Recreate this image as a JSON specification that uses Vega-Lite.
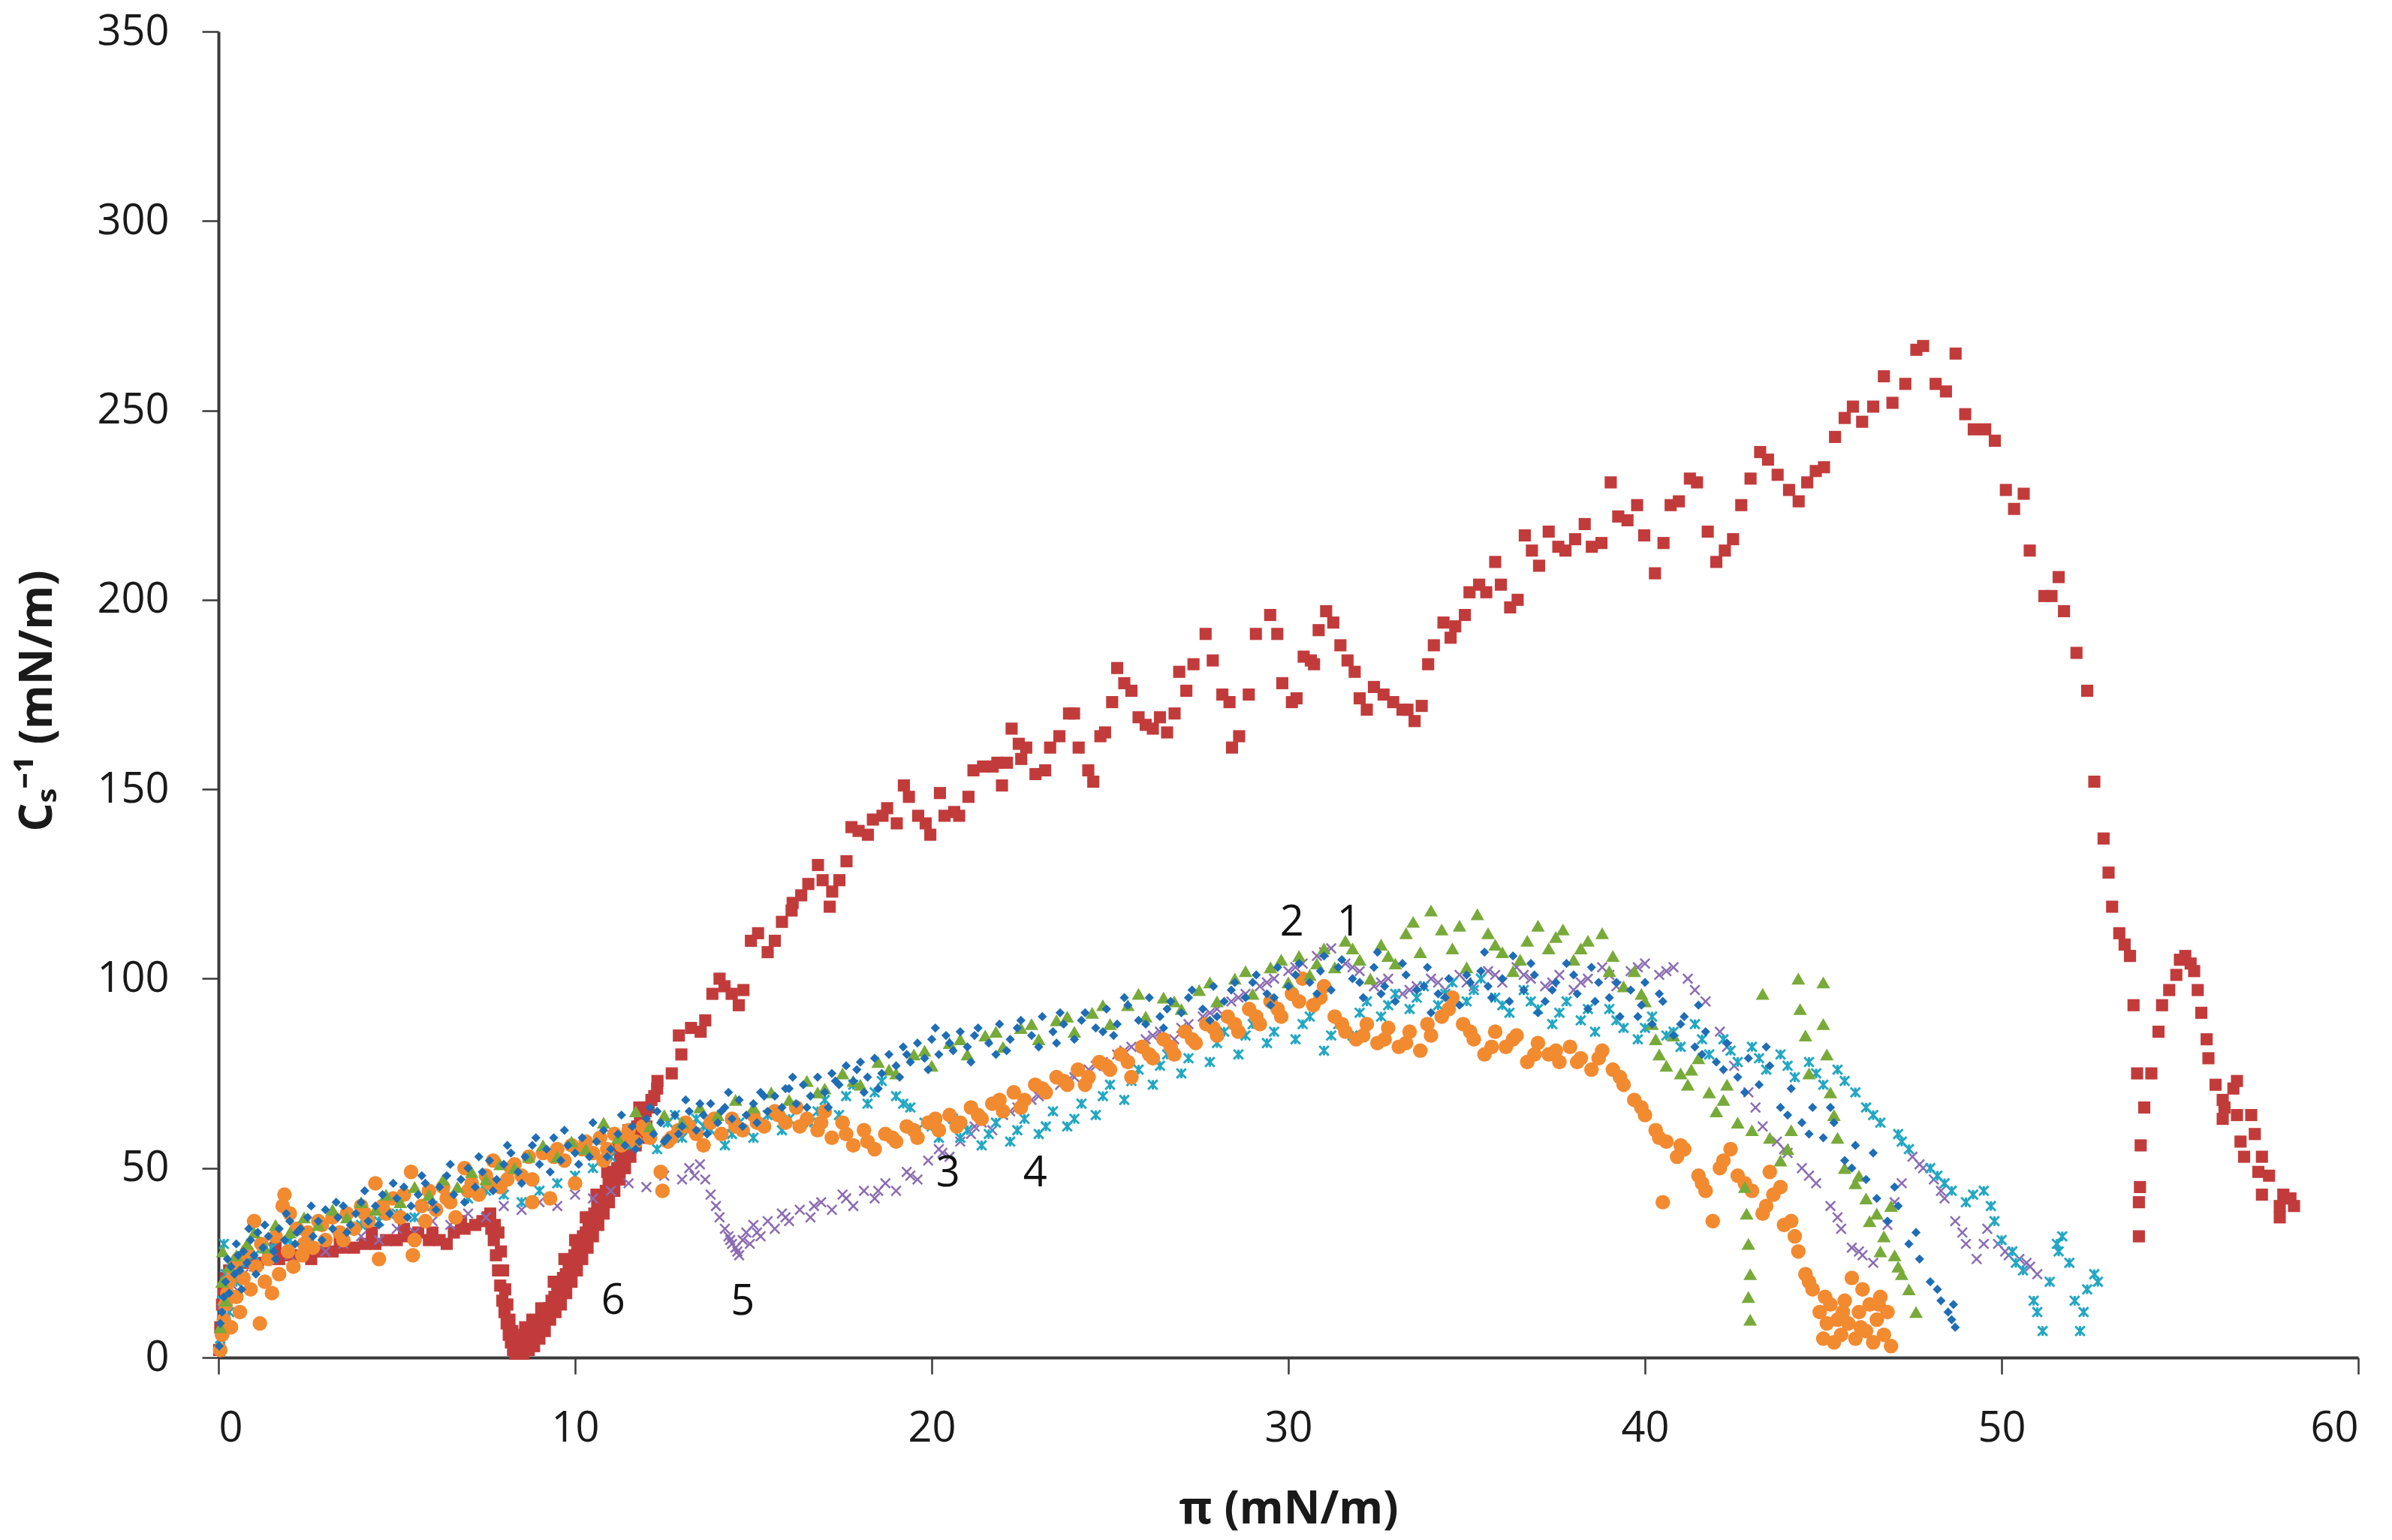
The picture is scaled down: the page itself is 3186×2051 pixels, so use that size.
{
  "$schema": "https://vega.github.io/schema/vega-lite/v6.json",
  "description": "Compressibility modulus against surface pressure for six films.",
  "width": 2850,
  "height": 1766,
  "autosize": {"type": "none"},
  "padding": {"left": 291, "top": 42, "right": 45, "bottom": 243},
  "background": "white",
  "datasets": {
    "s6": [
      {"x":0.02,"y":2},{"x":0.05,"y":8},{"x":0.1,"y":14},{"x":0.15,"y":18},{"x":0.2,"y":21},{"x":0.3,"y":23},{"x":0.5,"y":24},{"x":0.8,"y":25},{"x":1.1,"y":25},{"x":1.4,"y":26},{"x":1.7,"y":26},{"x":2.0,"y":27},{"x":2.3,"y":27},{"x":2.6,"y":26},{"x":2.9,"y":28},{"x":3.2,"y":28},{"x":3.5,"y":29},{"x":3.8,"y":29},{"x":4.1,"y":30},{"x":4.4,"y":30},{"x":4.7,"y":31},{"x":5.0,"y":31},{"x":5.3,"y":32},{"x":5.6,"y":33},{"x":5.9,"y":31},{"x":6.2,"y":31},{"x":6.4,"y":30},{"x":6.6,"y":33},{"x":6.9,"y":34},{"x":7.2,"y":35},{"x":7.4,"y":36},{"x":7.55,"y":37},{"x":7.65,"y":34},{"x":7.72,"y":31},{"x":7.78,"y":27},{"x":7.84,"y":23},{"x":7.9,"y":19},{"x":7.96,"y":15},{"x":8.02,"y":12},{"x":8.08,"y":9},{"x":8.14,"y":6},{"x":8.2,"y":4},{"x":8.26,"y":2},{"x":8.32,"y":1},{"x":8.38,"y":1},{"x":8.44,"y":2},{"x":8.5,"y":3},{"x":8.56,"y":2},{"x":8.62,"y":4},{"x":8.7,"y":5},{"x":8.78,"y":6},{"x":8.86,"y":7},{"x":8.94,"y":8},{"x":9.02,"y":9},{"x":9.1,"y":10},{"x":9.18,"y":11},{"x":9.26,"y":13},{"x":9.34,"y":15},{"x":9.42,"y":16},{"x":9.5,"y":18},{"x":9.58,"y":19},{"x":9.66,"y":21},{"x":9.74,"y":22},{"x":9.82,"y":24},{"x":9.9,"y":25},{"x":9.98,"y":27},{"x":10.06,"y":29},{"x":10.14,"y":30},{"x":10.22,"y":32},{"x":10.3,"y":33},{"x":10.38,"y":35},{"x":10.46,"y":37},{"x":10.54,"y":38},{"x":10.62,"y":40},{"x":10.7,"y":41},{"x":10.78,"y":43},{"x":10.86,"y":44},{"x":10.94,"y":46},{"x":11.02,"y":47},{"x":11.1,"y":49},{"x":11.18,"y":50},{"x":11.26,"y":52},{"x":11.34,"y":53},{"x":11.42,"y":55},{"x":11.5,"y":56},{"x":11.58,"y":58},{"x":11.66,"y":59},{"x":11.74,"y":61},{"x":11.82,"y":62},{"x":11.9,"y":64},{"x":11.98,"y":65},{"x":12.06,"y":66},{"x":12.14,"y":68},{"x":12.22,"y":69},{"x":12.3,"y":71},
      {"x":7.85,"y":33},{"x":7.92,"y":28},{"x":7.98,"y":23},{"x":8.04,"y":18},{"x":8.1,"y":14},{"x":8.16,"y":10},{"x":8.24,"y":7},{"x":8.3,"y":5},{"x":8.4,"y":4},{"x":8.5,"y":6},{"x":8.55,"y":1},{"x":8.7,"y":2},{"x":8.85,"y":3},{"x":9.0,"y":5},{"x":9.15,"y":7},{"x":9.3,"y":10},{"x":9.45,"y":12},{"x":9.6,"y":14},{"x":9.75,"y":17},{"x":9.9,"y":20},{"x":10.05,"y":23},{"x":10.2,"y":26},{"x":10.35,"y":29},{"x":10.5,"y":32},{"x":10.65,"y":35},{"x":10.8,"y":38},{"x":10.95,"y":41},{"x":11.1,"y":44},{"x":11.25,"y":47},{"x":11.4,"y":50},{"x":11.55,"y":53},{"x":11.7,"y":56},{"x":11.85,"y":58},{"x":12.0,"y":61},
      {"x":7.62,"y":38},{"x":7.75,"y":35},{"x":8.6,"y":8},{"x":8.8,"y":10},{"x":9.05,"y":13},{"x":9.4,"y":20},{"x":9.7,"y":26},{"x":10.0,"y":31},{"x":10.3,"y":37},{"x":10.6,"y":43},{"x":10.9,"y":49},{"x":11.2,"y":55},{"x":11.5,"y":60},{"x":11.8,"y":66},{"x":1.6,"y":29},{"x":2.5,"y":30},{"x":3.4,"y":31},{"x":4.3,"y":33},{"x":5.2,"y":34},{"x":6.0,"y":33},{"x":6.8,"y":36},
      {"x":12.04,"y":66},{"x":12.31,"y":73},{"x":12.71,"y":75},{"x":12.98,"y":80},{"x":12.91,"y":85},{"x":13.25,"y":87},{"x":13.52,"y":86},{"x":13.65,"y":89},{"x":13.85,"y":96},{"x":14.05,"y":100},{"x":14.19,"y":98},{"x":14.39,"y":96},{"x":14.59,"y":93},{"x":14.72,"y":97},{"x":14.93,"y":110},{"x":15.13,"y":112},{"x":15.4,"y":107},{"x":15.6,"y":110},{"x":15.8,"y":115},{"x":16.07,"y":118},{"x":16.1,"y":120},{"x":16.34,"y":122},{"x":16.54,"y":125},{"x":16.81,"y":130},{"x":16.94,"y":126},{"x":17.14,"y":119},{"x":17.21,"y":123},{"x":17.41,"y":126},{"x":17.61,"y":131},{"x":17.75,"y":140},{"x":17.95,"y":139},{"x":18.21,"y":138},{"x":18.35,"y":142},{"x":18.62,"y":143},{"x":18.75,"y":145},{"x":19.02,"y":141},{"x":19.22,"y":151},{"x":19.36,"y":148},{"x":19.62,"y":143},{"x":19.83,"y":141},{"x":19.96,"y":138},{"x":20.23,"y":149},{"x":20.36,"y":143},{"x":20.63,"y":144},{"x":20.77,"y":143},{"x":21.03,"y":148},{"x":21.17,"y":155},{"x":21.44,"y":156},{"x":21.71,"y":156},{"x":21.84,"y":157},{"x":21.97,"y":151},{"x":22.11,"y":157},{"x":22.24,"y":166},{"x":22.44,"y":162},{"x":22.51,"y":158},{"x":22.65,"y":161},{"x":22.91,"y":154},{"x":23.18,"y":155},{"x":23.32,"y":161},{"x":23.58,"y":164},{"x":23.85,"y":170},{"x":23.99,"y":170},{"x":24.12,"y":161},{"x":24.39,"y":155},{"x":24.53,"y":152},{"x":24.73,"y":164},{"x":24.86,"y":165},{"x":25.06,"y":173},{"x":25.2,"y":182},{"x":25.4,"y":178},{"x":25.6,"y":176},{"x":25.8,"y":169},{"x":26.0,"y":167},{"x":26.2,"y":166},{"x":26.4,"y":169},{"x":26.6,"y":165},{"x":26.81,"y":170},{"x":26.94,"y":181},{"x":27.14,"y":176},{"x":27.34,"y":183},{"x":27.68,"y":191},{"x":27.88,"y":184},{"x":28.15,"y":175},{"x":28.35,"y":173},{"x":28.42,"y":161},{"x":28.62,"y":164},{"x":28.89,"y":175},{"x":29.09,"y":191},{"x":29.49,"y":196},{"x":29.69,"y":191},{"x":29.83,"y":178},{"x":30.1,"y":173},{"x":30.23,"y":174},{"x":30.43,"y":185},{"x":30.63,"y":184},{"x":30.85,"y":192},{"x":31.06,"y":197},{"x":31.26,"y":194},{"x":30.72,"y":183},{"x":31.46,"y":188},{"x":31.66,"y":184},{"x":31.86,"y":181},{"x":32.0,"y":174},{"x":32.2,"y":171},{"x":32.4,"y":177},{"x":32.67,"y":175},{"x":32.94,"y":173},{"x":33.2,"y":171},{"x":33.34,"y":171},{"x":33.54,"y":168},{"x":33.74,"y":172},{"x":33.92,"y":183},{"x":34.08,"y":188},{"x":34.35,"y":194},{"x":34.55,"y":190},{"x":34.68,"y":193},{"x":34.95,"y":196},{"x":35.08,"y":202},{"x":35.35,"y":204},{"x":35.55,"y":202},{"x":35.8,"y":210},{"x":35.96,"y":204},{"x":36.22,"y":198},{"x":36.43,"y":200},{"x":36.63,"y":217},{"x":36.83,"y":213},{"x":37.03,"y":209},{"x":37.3,"y":218},{"x":37.57,"y":214},{"x":37.77,"y":213},{"x":38.04,"y":216},{"x":38.31,"y":220},{"x":38.51,"y":214},{"x":38.78,"y":215},{"x":39.04,"y":231},{"x":39.25,"y":222},{"x":39.51,"y":221},{"x":39.78,"y":225},{"x":39.98,"y":217},{"x":40.28,"y":207},{"x":40.52,"y":215},{"x":40.72,"y":225},{"x":40.95,"y":226},{"x":41.26,"y":232},{"x":41.46,"y":231},{"x":41.76,"y":218},{"x":42.0,"y":210},{"x":42.24,"y":213},{"x":42.47,"y":216},{"x":42.7,"y":225},{"x":42.96,"y":232},{"x":43.23,"y":239},{"x":43.45,"y":237},{"x":43.72,"y":233},{"x":44.04,"y":229},{"x":44.31,"y":226},{"x":44.55,"y":231},{"x":44.79,"y":234},{"x":45.02,"y":235},{"x":45.33,"y":243},{"x":45.6,"y":248},{"x":45.83,"y":251},{"x":46.09,"y":247},{"x":46.4,"y":251},{"x":46.7,"y":259},{"x":46.94,"y":252},{"x":47.3,"y":257},{"x":47.61,"y":266},{"x":47.8,"y":267},{"x":48.15,"y":257},{"x":48.44,"y":255},{"x":48.71,"y":265},{"x":48.98,"y":249},{"x":49.22,"y":245},{"x":49.54,"y":245},{"x":49.81,"y":242},{"x":50.12,"y":229},{"x":50.62,"y":228},{"x":50.35,"y":224},{"x":50.79,"y":213},{"x":51.2,"y":201},{"x":51.4,"y":201},{"x":51.6,"y":206},{"x":51.75,"y":197},{"x":52.1,"y":186},{"x":52.4,"y":176},{"x":52.6,"y":152},{"x":52.86,"y":137},{"x":53.0,"y":128},{"x":53.1,"y":119},{"x":53.3,"y":112},{"x":53.45,"y":109},{"x":53.6,"y":106},{"x":53.7,"y":93},{"x":53.8,"y":75},{"x":54.2,"y":75},{"x":54.0,"y":66},{"x":53.9,"y":56},{"x":53.88,"y":45},{"x":53.85,"y":41},{"x":53.85,"y":32},{"x":54.4,"y":86},{"x":54.5,"y":93},{"x":54.7,"y":97},{"x":54.9,"y":101},{"x":55.0,"y":105},{"x":55.15,"y":106},{"x":55.3,"y":104},{"x":55.4,"y":102},{"x":55.5,"y":97},{"x":55.6,"y":91},{"x":55.75,"y":84},{"x":55.8,"y":79},{"x":56.0,"y":72},{"x":56.2,"y":68},{"x":56.5,"y":71},{"x":56.6,"y":73},{"x":56.2,"y":63},{"x":56.25,"y":66},{"x":56.6,"y":64},{"x":56.7,"y":57},{"x":57.0,"y":64},{"x":57.1,"y":59},{"x":56.8,"y":53},{"x":57.3,"y":53},{"x":57.2,"y":49},{"x":57.5,"y":48},{"x":57.3,"y":43},{"x":57.9,"y":43},{"x":58.1,"y":42},{"x":57.8,"y":40},{"x":58.2,"y":40},{"x":57.8,"y":37}
    ],
    "s5": [
      {"x":0.05,"y":5},{"x":0.1,"y":12},{"x":0.2,"y":16},{"x":0.4,"y":19},{"x":0.7,"y":22},{"x":1.0,"y":24},{"x":1.5,"y":26},{"x":2.0,"y":27},{"x":2.5,"y":29},{"x":3.0,"y":28},{"x":3.5,"y":30},{"x":4.0,"y":32},{"x":4.5,"y":31},{"x":5.0,"y":34},{"x":5.5,"y":33},{"x":6.0,"y":36},{"x":6.5,"y":35},{"x":7.0,"y":38},{"x":7.5,"y":37},{"x":8.0,"y":40},{"x":8.5,"y":39},{"x":9.0,"y":41},{"x":9.5,"y":40},{"x":10.0,"y":43},{"x":10.5,"y":42},{"x":11.0,"y":44},{"x":11.5,"y":46},{"x":12.0,"y":45},{"x":12.5,"y":48},{"x":13.0,"y":47},{"x":13.2,"y":50},{"x":13.35,"y":48},{"x":13.5,"y":51},{"x":13.65,"y":47},{"x":13.8,"y":43},{"x":13.95,"y":40},{"x":14.05,"y":37},{"x":14.2,"y":34},{"x":14.3,"y":32},{"x":14.4,"y":30},{"x":14.5,"y":29},{"x":14.6,"y":27},{"x":14.7,"y":31},{"x":14.8,"y":33},{"x":14.9,"y":30},{"x":15.0,"y":35},{"x":15.2,"y":32},{"x":15.4,"y":36},{"x":15.6,"y":34},{"x":15.8,"y":38},{"x":16.0,"y":36},{"x":16.3,"y":39},{"x":16.6,"y":37},{"x":16.9,"y":41},{"x":17.2,"y":39},{"x":17.5,"y":43},{"x":17.8,"y":40},{"x":18.1,"y":44},{"x":18.4,"y":42},{"x":18.7,"y":46},{"x":19.0,"y":44},{"x":19.3,"y":49},{"x":19.6,"y":47},{"x":19.9,"y":52},{"x":20.2,"y":55},{"x":20.5,"y":53},{"x":20.8,"y":57},{"x":21.1,"y":59},{"x":21.4,"y":62},{"x":21.7,"y":60},{"x":22.0,"y":64},{"x":22.4,"y":66},{"x":22.8,"y":68},{"x":23.2,"y":70},{"x":23.6,"y":72},{"x":24.0,"y":74},{"x":24.4,"y":76},{"x":24.8,"y":78},{"x":25.2,"y":80},{"x":25.6,"y":82},{"x":26.0,"y":84},{"x":26.4,"y":86},{"x":26.8,"y":84},{"x":27.2,"y":88},{"x":27.6,"y":90},{"x":28.0,"y":92},{"x":28.4,"y":94},{"x":28.8,"y":96},{"x":29.2,"y":98},{"x":29.6,"y":100},{"x":30.0,"y":102},{"x":30.4,"y":104},{"x":30.8,"y":106},{"x":31.2,"y":108},{"x":31.6,"y":104},{"x":32.0,"y":102},{"x":32.4,"y":98},{"x":32.8,"y":100},{"x":33.2,"y":96},{"x":33.6,"y":98},{"x":34.0,"y":100},{"x":34.4,"y":97},{"x":34.8,"y":101},{"x":35.2,"y":98},{"x":35.6,"y":102},{"x":36.0,"y":99},{"x":36.4,"y":103},{"x":36.8,"y":100},{"x":37.2,"y":98},{"x":37.6,"y":101},{"x":38.0,"y":97},{"x":38.4,"y":100},{"x":38.8,"y":103},{"x":39.2,"y":98},{"x":39.6,"y":102},{"x":40.0,"y":104},{"x":40.4,"y":101},{"x":40.8,"y":103},{"x":41.2,"y":100},{"x":41.7,"y":94},{"x":42.1,"y":86},{"x":42.5,"y":77},{"x":42.9,"y":70},{"x":43.3,"y":61},{"x":43.7,"y":57},{"x":44.0,"y":54},{"x":44.4,"y":50},{"x":44.8,"y":46},{"x":45.2,"y":40},{"x":45.5,"y":34},{"x":45.8,"y":29},{"x":46.1,"y":27},{"x":46.4,"y":25},{"x":46.8,"y":35},{"x":47.2,"y":46},{"x":47.5,"y":53},{"x":47.8,"y":50},{"x":48.1,"y":47},{"x":48.4,"y":42},{"x":48.7,"y":36},{"x":49.0,"y":30},{"x":49.3,"y":26},{"x":49.6,"y":34},{"x":49.9,"y":30},{"x":50.2,"y":27},{"x":50.5,"y":26},{"x":50.8,"y":24},{"x":51.0,"y":22},
      {"x":14.35,"y":31},{"x":14.55,"y":28},{"x":15.1,"y":33},{"x":15.9,"y":37},{"x":16.7,"y":40},{"x":17.6,"y":42},{"x":18.5,"y":44},{"x":19.4,"y":48},{"x":20.3,"y":54},{"x":21.2,"y":61},{"x":22.2,"y":65},{"x":23.0,"y":69},{"x":23.8,"y":73},{"x":24.6,"y":77},{"x":25.4,"y":81},{"x":26.2,"y":85},{"x":27.0,"y":87},{"x":27.8,"y":91},{"x":28.6,"y":95},{"x":29.4,"y":99},{"x":30.2,"y":103},{"x":31.0,"y":107},{"x":31.8,"y":103},{"x":32.6,"y":99},{"x":33.4,"y":97},{"x":34.2,"y":99},{"x":35.0,"y":99},{"x":35.8,"y":101},{"x":36.6,"y":101},{"x":37.4,"y":99},{"x":38.2,"y":99},{"x":39.0,"y":101},{"x":39.8,"y":103},{"x":40.6,"y":102},{"x":41.4,"y":97},{"x":42.3,"y":82},{"x":43.1,"y":66},{"x":43.9,"y":55},{"x":44.6,"y":48},{"x":45.4,"y":37},{"x":46.0,"y":28},{"x":47.0,"y":41},{"x":47.7,"y":51},{"x":48.3,"y":44},{"x":48.9,"y":33},{"x":49.5,"y":30},{"x":50.1,"y":28},{"x":50.7,"y":25}
    ],
    "s4": [
      {"x":0.05,"y":5},{"x":0.1,"y":15},{"x":0.15,"y":30},{"x":0.2,"y":22},{"x":0.3,"y":12},{"x":0.5,"y":20},{"x":0.7,"y":25},{"x":1.0,"y":27},{"x":1.5,"y":29},{"x":2.0,"y":31},{"x":2.5,"y":32},{"x":3.0,"y":31},{"x":3.5,"y":33},{"x":4.0,"y":35},{"x":4.5,"y":36},{"x":5.0,"y":38},{"x":5.5,"y":37},{"x":6.0,"y":40},{"x":6.5,"y":41},{"x":7.0,"y":42},{"x":7.5,"y":44},{"x":8.0,"y":43},{"x":8.5,"y":41},{"x":9.0,"y":44},{"x":9.5,"y":46},{"x":10.0,"y":48},{"x":10.5,"y":50},{"x":11.0,"y":53},{"x":11.5,"y":56},{"x":12.0,"y":60},{"x":12.3,"y":55},{"x":12.6,"y":62},{"x":13.0,"y":58},{"x":13.4,"y":63},{"x":13.8,"y":60},{"x":14.2,"y":56},{"x":14.6,"y":62},{"x":15.0,"y":58},{"x":15.4,"y":64},{"x":15.8,"y":60},{"x":16.2,"y":66},{"x":16.6,"y":62},{"x":17.0,"y":68},{"x":17.4,"y":64},{"x":17.8,"y":72},{"x":18.2,"y":67},{"x":18.6,"y":73},{"x":19.0,"y":69},{"x":19.4,"y":66},{"x":19.8,"y":62},{"x":20.2,"y":58},{"x":20.6,"y":63},{"x":21.0,"y":60},{"x":21.4,"y":56},{"x":21.8,"y":62},{"x":22.2,"y":57},{"x":22.6,"y":63},{"x":23.0,"y":59},{"x":23.4,"y":65},{"x":23.8,"y":61},{"x":24.2,"y":67},{"x":24.6,"y":64},{"x":25.0,"y":72},{"x":25.4,"y":68},{"x":25.8,"y":76},{"x":26.2,"y":72},{"x":26.6,"y":80},{"x":27.0,"y":75},{"x":27.4,"y":83},{"x":27.8,"y":78},{"x":28.2,"y":86},{"x":28.6,"y":80},{"x":29.0,"y":88},{"x":29.4,"y":83},{"x":29.8,"y":90},{"x":30.2,"y":84},{"x":30.6,"y":90},{"x":31.0,"y":81},{"x":31.4,"y":88},{"x":31.8,"y":85},{"x":32.2,"y":94},{"x":32.6,"y":90},{"x":33.0,"y":96},{"x":33.4,"y":92},{"x":33.8,"y":98},{"x":34.2,"y":93},{"x":34.6,"y":99},{"x":35.0,"y":94},{"x":35.4,"y":100},{"x":35.8,"y":95},{"x":36.2,"y":91},{"x":36.6,"y":97},{"x":37.0,"y":92},{"x":37.4,"y":88},{"x":37.8,"y":94},{"x":38.2,"y":89},{"x":38.6,"y":86},{"x":39.0,"y":92},{"x":39.4,"y":87},{"x":39.8,"y":84},{"x":40.2,"y":90},{"x":40.6,"y":85},{"x":41.0,"y":82},{"x":41.4,"y":88},{"x":41.8,"y":80},{"x":42.2,"y":84},{"x":42.6,"y":78},{"x":43.0,"y":82},{"x":43.4,"y":76},{"x":43.8,"y":80},{"x":44.2,"y":74},{"x":44.6,"y":78},{"x":45.0,"y":72},{"x":45.4,"y":76},{"x":45.9,"y":70},{"x":46.2,"y":66},{"x":46.6,"y":62},{"x":47.1,"y":59},{"x":47.4,"y":55},{"x":48.0,"y":50},{"x":48.2,"y":48},{"x":48.6,"y":44},{"x":49.2,"y":43},{"x":49.5,"y":44},{"x":49.7,"y":40},{"x":50.0,"y":31},{"x":50.3,"y":28},{"x":50.6,"y":23},{"x":50.9,"y":15},{"x":51.15,"y":7},{"x":51.35,"y":20},{"x":51.55,"y":30},{"x":51.7,"y":32},{"x":51.9,"y":25},{"x":52.05,"y":15},{"x":52.2,"y":7},{"x":52.4,"y":18},{"x":52.6,"y":22},{"x":52.7,"y":20},
      {"x":12.8,"y":64},{"x":13.6,"y":61},{"x":14.4,"y":59},{"x":15.2,"y":62},{"x":16.0,"y":63},{"x":16.8,"y":65},{"x":17.6,"y":69},{"x":18.4,"y":70},{"x":19.2,"y":67},{"x":20.0,"y":61},{"x":20.8,"y":58},{"x":21.6,"y":59},{"x":22.4,"y":60},{"x":23.2,"y":61},{"x":24.0,"y":63},{"x":24.8,"y":69},{"x":25.6,"y":73},{"x":26.4,"y":77},{"x":27.2,"y":79},{"x":28.0,"y":83},{"x":28.8,"y":85},{"x":29.6,"y":86},{"x":30.4,"y":88},{"x":31.2,"y":85},{"x":32.0,"y":91},{"x":32.8,"y":93},{"x":33.6,"y":95},{"x":34.4,"y":96},{"x":35.2,"y":97},{"x":36.0,"y":93},{"x":36.8,"y":94},{"x":37.6,"y":91},{"x":38.4,"y":92},{"x":39.2,"y":89},{"x":40.0,"y":87},{"x":40.8,"y":86},{"x":41.6,"y":84},{"x":42.4,"y":81},{"x":43.2,"y":79},{"x":44.0,"y":77},{"x":44.8,"y":75},{"x":45.6,"y":73},{"x":46.4,"y":64},{"x":47.2,"y":57},{"x":48.4,"y":46},{"x":49.0,"y":41},{"x":49.8,"y":36},{"x":50.4,"y":25},{"x":51.0,"y":12},{"x":51.6,"y":28},{"x":52.3,"y":12}
    ],
    "s3": [
      {"x":0.05,"y":2},{"x":0.1,"y":6},{"x":0.15,"y":10},{"x":0.2,"y":14},{"x":0.25,"y":17},{"x":0.3,"y":20},{"x":0.35,"y":8},{"x":0.4,"y":23},{"x":0.5,"y":16},{"x":0.55,"y":26},{"x":0.6,"y":12},{"x":0.7,"y":21},{"x":0.8,"y":28},{"x":0.9,"y":18},{"x":1.0,"y":36},{"x":1.05,"y":24},{"x":1.16,"y":9},{"x":1.2,"y":30},{"x":1.3,"y":20},{"x":1.4,"y":26},{"x":1.5,"y":17},{"x":1.6,"y":32},{"x":1.7,"y":22},{"x":1.8,"y":40},{"x":1.85,"y":43},{"x":1.95,"y":28},{"x":2.0,"y":38},{"x":2.1,"y":24},{"x":2.2,"y":34},{"x":2.35,"y":27},{"x":2.5,"y":33},{"x":2.65,"y":29},{"x":2.8,"y":36},{"x":3.0,"y":31},{"x":3.2,"y":37},{"x":3.4,"y":33},{"x":3.6,"y":38},{"x":3.8,"y":34},{"x":4.0,"y":40},{"x":4.2,"y":36},{"x":4.4,"y":46},{"x":4.5,"y":26},{"x":4.7,"y":38},{"x":4.9,"y":42},{"x":5.1,"y":37},{"x":5.4,"y":49},{"x":5.45,"y":27},{"x":5.5,"y":31},{"x":5.7,"y":40},{"x":5.9,"y":44},{"x":6.1,"y":39},{"x":6.3,"y":45},{"x":6.5,"y":41},{"x":6.65,"y":37},{"x":6.9,"y":50},{"x":7.1,"y":46},{"x":7.3,"y":43},{"x":7.5,"y":48},{"x":7.7,"y":52},{"x":7.9,"y":45},{"x":8.1,"y":47},{"x":8.3,"y":51},{"x":8.5,"y":48},{"x":8.7,"y":53},{"x":8.8,"y":41},{"x":9.1,"y":54},{"x":9.3,"y":42},{"x":9.5,"y":55},{"x":9.7,"y":52},{"x":9.9,"y":56},{"x":10.0,"y":46},{"x":10.3,"y":57},{"x":10.5,"y":54},{"x":10.7,"y":58},{"x":10.9,"y":55},{"x":11.1,"y":59},{"x":11.3,"y":56},{"x":11.5,"y":60},{"x":11.7,"y":57},{"x":11.9,"y":61},{"x":12.1,"y":58},{"x":12.4,"y":49},{"x":12.45,"y":44},{"x":12.7,"y":58},{"x":12.9,"y":60},{"x":13.1,"y":62},{"x":13.4,"y":59},{"x":13.6,"y":56},{"x":13.8,"y":62},{"x":14.1,"y":59},{"x":14.4,"y":63},{"x":14.7,"y":60},{"x":15.0,"y":64},{"x":15.3,"y":61},{"x":15.6,"y":65},{"x":15.9,"y":62},{"x":16.2,"y":66},{"x":16.5,"y":63},{"x":16.8,"y":60},{"x":17.0,"y":65},{"x":17.2,"y":58},{"x":17.5,"y":62},{"x":17.8,"y":56},{"x":18.1,"y":60},{"x":18.4,"y":55},{"x":18.7,"y":59},{"x":19.0,"y":57},{"x":19.3,"y":61},{"x":19.6,"y":58},{"x":19.9,"y":62},{"x":20.2,"y":60},{"x":20.5,"y":64},{"x":20.8,"y":62},{"x":21.1,"y":66},{"x":21.4,"y":63},{"x":21.7,"y":67},{"x":22.0,"y":65},{"x":22.3,"y":70},{"x":22.6,"y":68},{"x":22.9,"y":72},{"x":23.2,"y":70},{"x":23.5,"y":74},{"x":23.8,"y":72},{"x":24.1,"y":76},{"x":24.4,"y":74},{"x":24.7,"y":78},{"x":25.0,"y":76},{"x":25.3,"y":80},{"x":25.6,"y":74},{"x":25.9,"y":82},{"x":26.2,"y":79},{"x":26.5,"y":84},{"x":26.8,"y":80},{"x":27.1,"y":86},{"x":27.4,"y":83},{"x":27.7,"y":88},{"x":28.0,"y":85},{"x":28.3,"y":90},{"x":28.6,"y":86},{"x":28.9,"y":92},{"x":29.2,"y":88},{"x":29.5,"y":94},{"x":29.8,"y":90},{"x":30.1,"y":96},{"x":30.4,"y":100},{"x":30.7,"y":93},{"x":31.0,"y":98},{"x":31.3,"y":90},{"x":31.6,"y":86},{"x":31.9,"y":84},{"x":32.2,"y":88},{"x":32.5,"y":83},{"x":32.8,"y":87},{"x":33.1,"y":82},{"x":33.4,"y":86},{"x":33.7,"y":81},{"x":34.0,"y":85},{"x":34.3,"y":90},{"x":34.6,"y":95},{"x":34.9,"y":88},{"x":35.2,"y":84},{"x":35.5,"y":80},{"x":35.8,"y":86},{"x":36.1,"y":82},{"x":36.4,"y":85},{"x":36.7,"y":78},{"x":37.0,"y":83},{"x":37.3,"y":80},{"x":37.6,"y":78},{"x":37.9,"y":82},{"x":38.2,"y":79},{"x":38.5,"y":76},{"x":38.8,"y":81},{"x":39.1,"y":76},{"x":39.4,"y":72},{"x":39.7,"y":68},{"x":40.0,"y":64},{"x":40.3,"y":60},{"x":40.5,"y":41},{"x":40.6,"y":57},{"x":40.9,"y":53},{"x":41.1,"y":55},{"x":41.5,"y":48},{"x":41.7,"y":44},{"x":41.9,"y":36},{"x":42.1,"y":50},{"x":42.4,"y":55},{"x":42.6,"y":48},{"x":43.0,"y":44},{"x":43.3,"y":38},{"x":43.5,"y":49},{"x":43.6,"y":43},{"x":43.9,"y":35},{"x":44.1,"y":36},{"x":44.3,"y":28},{"x":44.5,"y":22},{"x":44.7,"y":18},{"x":44.9,"y":12},{"x":45.0,"y":5},{"x":45.1,"y":9},{"x":45.2,"y":14},{"x":45.3,"y":4},{"x":45.4,"y":10},{"x":45.5,"y":6},{"x":45.6,"y":15},{"x":45.7,"y":9},{"x":45.8,"y":21},{"x":45.9,"y":5},{"x":46.0,"y":12},{"x":46.1,"y":18},{"x":46.2,"y":7},{"x":46.3,"y":14},{"x":46.4,"y":4},{"x":46.5,"y":10},{"x":46.6,"y":16},{"x":46.7,"y":6},{"x":46.8,"y":12},{"x":46.9,"y":3},
      {"x":2.4,"y":30},{"x":2.9,"y":35},{"x":3.5,"y":31},{"x":4.1,"y":38},{"x":4.6,"y":40},{"x":5.2,"y":43},{"x":5.8,"y":36},{"x":6.4,"y":42},{"x":7.0,"y":44},{"x":7.6,"y":46},{"x":8.2,"y":50},{"x":8.8,"y":47},{"x":9.4,"y":53},{"x":10.2,"y":55},{"x":10.8,"y":52},{"x":11.4,"y":58},{"x":12.0,"y":60},{"x":12.6,"y":57},{"x":13.2,"y":61},{"x":13.9,"y":63},{"x":14.5,"y":61},{"x":15.1,"y":62},{"x":15.7,"y":64},{"x":16.3,"y":61},{"x":16.9,"y":62},{"x":17.6,"y":59},{"x":18.2,"y":57},{"x":18.9,"y":58},{"x":19.5,"y":60},{"x":20.1,"y":63},{"x":20.7,"y":61},{"x":21.3,"y":64},{"x":21.9,"y":68},{"x":22.5,"y":66},{"x":23.1,"y":71},{"x":23.7,"y":73},{"x":24.3,"y":72},{"x":24.9,"y":77},{"x":25.5,"y":78},{"x":26.1,"y":80},{"x":26.7,"y":82},{"x":27.3,"y":84},{"x":27.9,"y":87},{"x":28.5,"y":88},{"x":29.1,"y":90},{"x":29.7,"y":92},{"x":30.3,"y":94},{"x":30.9,"y":95},{"x":31.5,"y":88},{"x":32.1,"y":85},{"x":32.7,"y":84},{"x":33.3,"y":83},{"x":33.9,"y":88},{"x":34.5,"y":92},{"x":35.1,"y":86},{"x":35.7,"y":82},{"x":36.3,"y":84},{"x":36.9,"y":80},{"x":37.5,"y":81},{"x":38.1,"y":78},{"x":38.7,"y":79},{"x":39.3,"y":74},{"x":39.9,"y":66},{"x":40.4,"y":58},{"x":41.0,"y":56},{"x":41.6,"y":46},{"x":42.2,"y":52},{"x":42.8,"y":46},{"x":43.4,"y":40},{"x":43.8,"y":45},{"x":44.2,"y":32},{"x":44.6,"y":20},{"x":45.05,"y":16},{"x":45.55,"y":12},{"x":46.05,"y":8},{"x":46.55,"y":14}
    ],
    "s2": [
      {"x":0.05,"y":8},{"x":0.1,"y":20},{"x":0.12,"y":28},{"x":0.2,"y":15},{"x":0.3,"y":24},{"x":0.5,"y":27},{"x":0.8,"y":30},{"x":1.0,"y":33},{"x":1.3,"y":29},{"x":1.6,"y":35},{"x":2.0,"y":33},{"x":2.4,"y":37},{"x":2.8,"y":35},{"x":3.2,"y":39},{"x":3.6,"y":37},{"x":4.0,"y":41},{"x":4.4,"y":39},{"x":4.7,"y":43},{"x":5.1,"y":41},{"x":5.5,"y":45},{"x":5.9,"y":43},{"x":6.3,"y":47},{"x":6.7,"y":45},{"x":7.1,"y":49},{"x":7.5,"y":47},{"x":7.9,"y":51},{"x":8.3,"y":50},{"x":8.7,"y":53},{"x":9.1,"y":56},{"x":9.5,"y":53},{"x":9.9,"y":57},{"x":10.3,"y":55},{"x":10.8,"y":62},{"x":11.2,"y":58},{"x":11.7,"y":65},{"x":12.1,"y":61},{"x":12.5,"y":64},{"x":13.0,"y":62},{"x":13.5,"y":66},{"x":14.0,"y":64},{"x":14.5,"y":68},{"x":15.0,"y":66},{"x":15.5,"y":70},{"x":16.0,"y":68},{"x":16.5,"y":73},{"x":17.0,"y":71},{"x":17.5,"y":75},{"x":18.0,"y":72},{"x":18.5,"y":78},{"x":19.0,"y":75},{"x":19.5,"y":80},{"x":20.0,"y":77},{"x":20.5,"y":83},{"x":21.0,"y":80},{"x":21.5,"y":85},{"x":22.0,"y":82},{"x":22.5,"y":87},{"x":23.0,"y":84},{"x":23.5,"y":89},{"x":24.0,"y":86},{"x":24.5,"y":91},{"x":25.0,"y":88},{"x":25.5,"y":93},{"x":26.0,"y":90},{"x":26.5,"y":95},{"x":27.0,"y":92},{"x":27.5,"y":97},{"x":28.0,"y":94},{"x":28.5,"y":100},{"x":29.0,"y":96},{"x":29.5,"y":103},{"x":30.0,"y":99},{"x":30.3,"y":106},{"x":30.6,"y":101},{"x":31.0,"y":108},{"x":31.3,"y":103},{"x":31.6,"y":110},{"x":32.0,"y":105},{"x":32.3,"y":100},{"x":32.6,"y":109},{"x":33.0,"y":104},{"x":33.3,"y":112},{"x":33.7,"y":107},{"x":34.0,"y":118},{"x":34.3,"y":113},{"x":34.6,"y":108},{"x":35.0,"y":103},{"x":35.3,"y":117},{"x":35.6,"y":112},{"x":36.0,"y":107},{"x":36.3,"y":102},{"x":36.7,"y":110},{"x":37.0,"y":114},{"x":37.3,"y":108},{"x":37.7,"y":113},{"x":38.0,"y":105},{"x":38.4,"y":110},{"x":38.8,"y":112},{"x":39.1,"y":106},{"x":39.4,"y":98},{"x":39.7,"y":102},{"x":40.0,"y":94},{"x":40.2,"y":88},{"x":40.4,"y":80},{"x":40.6,"y":77},{"x":40.8,"y":85},{"x":41.0,"y":75},{"x":41.2,"y":72},{"x":41.5,"y":79},{"x":41.8,"y":70},{"x":42.0,"y":65},{"x":42.3,"y":72},{"x":42.6,"y":62},{"x":42.8,"y":45},{"x":42.85,"y":38},{"x":42.9,"y":30},{"x":42.95,"y":22},{"x":42.9,"y":16},{"x":42.95,"y":10},{"x":43.3,"y":96},{"x":43.5,"y":58},{"x":43.8,"y":52},{"x":44.1,"y":60},{"x":44.3,"y":100},{"x":44.35,"y":92},{"x":44.5,"y":85},{"x":44.6,"y":75},{"x":45.0,"y":99},{"x":45.0,"y":88},{"x":45.1,"y":80},{"x":45.2,"y":70},{"x":45.4,"y":58},{"x":45.6,"y":50},{"x":45.9,"y":46},{"x":46.2,"y":42},{"x":46.5,"y":38},{"x":46.7,"y":32},{"x":46.9,"y":40},{"x":47.0,"y":27},{"x":47.2,"y":22},{"x":47.4,"y":18},{"x":47.6,"y":12},
      {"x":16.8,"y":70},{"x":17.8,"y":73},{"x":18.8,"y":76},{"x":19.8,"y":81},{"x":20.8,"y":84},{"x":21.8,"y":86},{"x":22.8,"y":88},{"x":23.8,"y":90},{"x":24.8,"y":93},{"x":25.8,"y":96},{"x":26.8,"y":94},{"x":27.8,"y":99},{"x":28.8,"y":102},{"x":29.8,"y":105},{"x":30.8,"y":104},{"x":31.8,"y":108},{"x":32.8,"y":106},{"x":33.5,"y":115},{"x":34.8,"y":114},{"x":35.8,"y":109},{"x":36.5,"y":105},{"x":37.5,"y":111},{"x":38.2,"y":108},{"x":39.0,"y":102},{"x":39.9,"y":96},{"x":40.3,"y":84},{"x":41.3,"y":76},{"x":42.2,"y":68},{"x":43.0,"y":60},{"x":44.0,"y":55},{"x":45.3,"y":64},{"x":46.0,"y":48},{"x":46.3,"y":36},{"x":46.6,"y":28},{"x":47.1,"y":24}
    ],
    "s1": [
      {"x":0.02,"y":3},{"x":0.05,"y":9},{"x":0.1,"y":12},{"x":0.15,"y":16},{"x":0.2,"y":20},{"x":0.3,"y":17},{"x":0.35,"y":24},{"x":0.45,"y":22},{"x":0.55,"y":27},{"x":0.6,"y":23},{"x":0.7,"y":28},{"x":0.8,"y":25},{"x":0.9,"y":31},{"x":1.0,"y":27},{"x":1.1,"y":33},{"x":1.25,"y":29},{"x":1.4,"y":32},{"x":1.55,"y":28},{"x":1.7,"y":34},{"x":1.85,"y":31},{"x":2.0,"y":36},{"x":2.15,"y":30},{"x":2.3,"y":34},{"x":2.5,"y":37},{"x":2.65,"y":32},{"x":2.8,"y":36},{"x":3.0,"y":39},{"x":3.2,"y":34},{"x":3.35,"y":37},{"x":3.5,"y":40},{"x":3.7,"y":35},{"x":3.85,"y":38},{"x":4.0,"y":41},{"x":4.2,"y":36},{"x":4.4,"y":40},{"x":4.6,"y":43},{"x":4.8,"y":38},{"x":5.0,"y":42},{"x":5.2,"y":45},{"x":5.4,"y":40},{"x":5.6,"y":43},{"x":5.8,"y":46},{"x":6.0,"y":41},{"x":6.2,"y":45},{"x":6.4,"y":48},{"x":6.6,"y":43},{"x":6.8,"y":47},{"x":7.0,"y":50},{"x":7.2,"y":45},{"x":7.4,"y":49},{"x":7.6,"y":52},{"x":7.8,"y":47},{"x":8.0,"y":51},{"x":8.2,"y":54},{"x":8.4,"y":49},{"x":8.6,"y":53},{"x":8.8,"y":56},{"x":9.0,"y":51},{"x":9.2,"y":55},{"x":9.4,"y":58},{"x":9.6,"y":52},{"x":9.8,"y":56},{"x":10.0,"y":54},{"x":10.2,"y":58},{"x":10.4,"y":53},{"x":10.6,"y":57},{"x":10.8,"y":60},{"x":11.0,"y":55},{"x":11.2,"y":59},{"x":11.4,"y":56},{"x":11.6,"y":61},{"x":11.8,"y":57},{"x":12.0,"y":63},{"x":12.2,"y":59},{"x":12.4,"y":62},{"x":12.6,"y":58},{"x":12.8,"y":64},{"x":13.0,"y":61},{"x":13.2,"y":65},{"x":13.4,"y":60},{"x":13.6,"y":64},{"x":13.8,"y":67},{"x":14.0,"y":62},{"x":14.2,"y":66},{"x":14.4,"y":63},{"x":14.6,"y":68},{"x":14.8,"y":64},{"x":15.0,"y":67},{"x":15.2,"y":70},{"x":15.4,"y":65},{"x":15.6,"y":69},{"x":15.8,"y":66},{"x":16.0,"y":71},{"x":16.2,"y":67},{"x":16.4,"y":72},{"x":16.6,"y":69},{"x":16.8,"y":74},{"x":17.0,"y":70},{"x":17.2,"y":75},{"x":17.4,"y":72},{"x":17.6,"y":77},{"x":17.8,"y":73},{"x":18.0,"y":78},{"x":18.2,"y":74},{"x":18.4,"y":79},{"x":18.6,"y":75},{"x":18.8,"y":80},{"x":19.0,"y":77},{"x":19.2,"y":82},{"x":19.4,"y":78},{"x":19.6,"y":83},{"x":19.8,"y":79},{"x":20.0,"y":84},{"x":20.2,"y":80},{"x":20.4,"y":85},{"x":20.6,"y":81},{"x":20.8,"y":86},{"x":21.0,"y":82},{"x":21.3,"y":87},{"x":21.6,"y":83},{"x":21.9,"y":88},{"x":22.2,"y":84},{"x":22.5,"y":89},{"x":22.8,"y":85},{"x":23.1,"y":90},{"x":23.4,"y":86},{"x":23.7,"y":88},{"x":24.0,"y":84},{"x":24.3,"y":91},{"x":24.6,"y":87},{"x":24.9,"y":92},{"x":25.2,"y":88},{"x":25.5,"y":93},{"x":25.8,"y":89},{"x":26.1,"y":95},{"x":26.4,"y":90},{"x":26.7,"y":94},{"x":27.0,"y":91},{"x":27.3,"y":97},{"x":27.6,"y":92},{"x":27.9,"y":98},{"x":28.2,"y":94},{"x":28.5,"y":99},{"x":28.8,"y":95},{"x":29.1,"y":101},{"x":29.4,"y":96},{"x":29.7,"y":103},{"x":30.0,"y":98},{"x":30.3,"y":104},{"x":30.6,"y":99},{"x":30.9,"y":102},{"x":31.2,"y":97},{"x":31.5,"y":105},{"x":31.8,"y":100},{"x":32.1,"y":95},{"x":32.4,"y":103},{"x":32.7,"y":98},{"x":33.0,"y":94},{"x":33.3,"y":101},{"x":33.6,"y":97},{"x":33.9,"y":103},{"x":34.2,"y":96},{"x":34.5,"y":100},{"x":34.8,"y":93},{"x":35.1,"y":99},{"x":35.4,"y":102},{"x":35.7,"y":95},{"x":36.0,"y":100},{"x":36.3,"y":106},{"x":36.6,"y":97},{"x":36.9,"y":101},{"x":37.2,"y":94},{"x":37.5,"y":99},{"x":37.8,"y":104},{"x":38.1,"y":96},{"x":38.4,"y":92},{"x":38.7,"y":99},{"x":39.0,"y":95},{"x":39.3,"y":90},{"x":39.6,"y":97},{"x":39.9,"y":93},{"x":40.2,"y":88},{"x":40.5,"y":94},{"x":40.8,"y":85},{"x":41.1,"y":90},{"x":41.4,"y":82},{"x":41.7,"y":86},{"x":42.0,"y":78},{"x":42.3,"y":83},{"x":42.6,"y":74},{"x":42.9,"y":79},{"x":43.2,"y":72},{"x":43.5,"y":77},{"x":43.8,"y":66},{"x":44.1,"y":71},{"x":44.4,"y":62},{"x":44.7,"y":66},{"x":45.0,"y":58},{"x":45.3,"y":62},{"x":45.6,"y":52},{"x":45.9,"y":56},{"x":46.2,"y":47},{"x":46.5,"y":42},{"x":46.8,"y":36},{"x":47.1,"y":40},{"x":47.4,"y":30},{"x":47.7,"y":26},{"x":48.0,"y":20},{"x":48.3,"y":15},{"x":48.5,"y":12},{"x":48.7,"y":8},
      {"x":0.25,"y":26},{"x":0.5,"y":30},{"x":0.65,"y":18},{"x":0.85,"y":34},{"x":1.05,"y":22},{"x":1.3,"y":35},{"x":1.6,"y":26},{"x":1.9,"y":38},{"x":2.2,"y":33},{"x":2.6,"y":40},{"x":2.9,"y":31},{"x":3.3,"y":41},{"x":3.6,"y":33},{"x":4.1,"y":44},{"x":4.5,"y":35},{"x":4.9,"y":46},{"x":5.3,"y":37},{"x":5.7,"y":48},{"x":6.1,"y":39},{"x":6.5,"y":51},{"x":6.9,"y":41},{"x":7.3,"y":53},{"x":7.7,"y":44},{"x":8.1,"y":56},{"x":8.5,"y":46},{"x":8.9,"y":58},{"x":9.3,"y":49},{"x":9.7,"y":60},{"x":10.1,"y":51},{"x":10.5,"y":62},{"x":10.9,"y":53},{"x":11.3,"y":64},{"x":11.7,"y":55},{"x":12.1,"y":66},{"x":12.5,"y":57},{"x":13.1,"y":68},{"x":13.7,"y":59},{"x":14.3,"y":70},{"x":15.1,"y":62},{"x":16.1,"y":74},{"x":17.1,"y":66},{"x":18.1,"y":70},{"x":19.1,"y":74},{"x":20.1,"y":87},{"x":21.1,"y":78},{"x":22.1,"y":81},{"x":23.5,"y":83},{"x":25.1,"y":85},{"x":26.5,"y":87},{"x":28.0,"y":90},{"x":29.5,"y":93},{"x":31.0,"y":106},{"x":32.5,"y":107},{"x":34.0,"y":91},{"x":35.5,"y":107},{"x":37.0,"y":91},{"x":38.5,"y":103},{"x":40.0,"y":99},{"x":41.5,"y":93},
      {"x":12.3,"y":65},{"x":12.9,"y":59},{"x":13.5,"y":67},{"x":14.1,"y":65},{"x":14.7,"y":61},{"x":15.3,"y":69},{"x":15.9,"y":71},{"x":16.5,"y":66},{"x":17.3,"y":73},{"x":17.9,"y":76},{"x":18.5,"y":71},{"x":19.3,"y":80},{"x":19.9,"y":76},{"x":20.5,"y":83},{"x":21.2,"y":85},{"x":21.8,"y":80},{"x":22.4,"y":87},{"x":23.0,"y":82},{"x":23.6,"y":91},{"x":24.2,"y":89},{"x":24.8,"y":86},{"x":25.4,"y":95},{"x":26.0,"y":88},{"x":26.6,"y":92},{"x":27.2,"y":95},{"x":27.8,"y":89},{"x":28.4,"y":97},{"x":29.0,"y":99},{"x":29.6,"y":95},{"x":30.2,"y":101},{"x":30.8,"y":96},{"x":31.4,"y":103},{"x":32.0,"y":99},{"x":32.6,"y":96},{"x":33.2,"y":104},{"x":33.8,"y":98},{"x":34.4,"y":95},{"x":35.0,"y":101},{"x":35.6,"y":98},{"x":36.2,"y":94},{"x":36.8,"y":104},{"x":37.4,"y":97},{"x":38.0,"y":101},{"x":38.6,"y":94},{"x":39.2,"y":99},{"x":39.8,"y":90},{"x":40.4,"y":96},{"x":41.0,"y":88},{"x":41.6,"y":80},{"x":42.2,"y":76},{"x":42.8,"y":70},{"x":43.4,"y":82},{"x":44.0,"y":64},{"x":44.6,"y":59},{"x":45.2,"y":66},{"x":45.8,"y":50},{"x":46.4,"y":54},{"x":47.0,"y":45},{"x":47.6,"y":33},{"x":48.2,"y":18},{"x":48.6,"y":10},{"x":48.65,"y":14}
    ],
    "labels": [
      {"x":31.7,"y":114.8,"t":"1"},
      {"x":30.1,"y":114.8,"t":"2"},
      {"x":20.46,"y":48.6,"t":"3"},
      {"x":22.9,"y":48.6,"t":"4"},
      {"x":14.7,"y":14.6,"t":"5"},
      {"x":11.07,"y":14.8,"t":"6"}
    ]
  },
  "encoding": {
    "x": {
      "field": "x",
      "type": "quantitative",
      "scale": {"domain": [0, 60], "nice": false},
      "axis": {
        "values": [0, 10, 20, 30, 40, 50, 60],
        "title": "π (mN/m)",
        "titleY": 202,
        "titleBaseline": "middle",
        "labelPadding": 45
      }
    },
    "y": {
      "field": "y",
      "type": "quantitative",
      "scale": {"domain": [0, 350], "nice": false},
      "axis": {
        "values": [0, 50, 100, 150, 200, 250, 300, 350],
        "title": "Cₛ⁻¹ (mN/m)",
        "titleX": -241,
        "titleY": 891,
        "titleAngle": -90,
        "titleAlign": "center",
        "titleBaseline": "middle",
        "labelPadding": 44
      }
    }
  },
  "layer": [
    {"data": {"name": "s6"}, "mark": {"type": "point", "shape": "square", "filled": true, "color": "#c23b3b", "size": 260, "opacity": 1}},
    {"data": {"name": "s5"}, "mark": {"type": "point", "shape": "M-1,-1L1,1M-1,1L1,-1", "filled": false, "color": "#8b6cb2", "strokeWidth": 2.5, "size": 160, "opacity": 1}},
    {"data": {"name": "s4"}, "mark": {"type": "point", "shape": "M-1,-1L1,1M-1,1L1,-1M0,-1L0,1", "filled": false, "color": "#23a7c2", "strokeWidth": 3, "size": 160, "opacity": 1}},
    {"data": {"name": "s3"}, "mark": {"type": "point", "shape": "circle", "filled": true, "color": "#f28a30", "size": 380, "opacity": 1}},
    {"data": {"name": "s2"}, "mark": {"type": "point", "shape": "triangle-up", "filled": true, "color": "#78aa3a", "size": 330, "opacity": 1}},
    {"data": {"name": "s1"}, "mark": {"type": "point", "shape": "diamond", "filled": true, "color": "#1f6db5", "size": 150, "opacity": 1}},
    {
      "data": {"name": "labels"},
      "mark": {"type": "text", "font": "Open Sans", "fontSize": 56, "color": "#111111", "align": "center", "baseline": "middle"},
      "encoding": {"text": {"field": "t", "type": "nominal"}}
    }
  ],
  "config": {
    "view": {"stroke": null},
    "axis": {
      "grid": false,
      "domainColor": "#3a3a3a",
      "domainWidth": 4,
      "tickColor": "#3a3a3a",
      "tickWidth": 2.5,
      "tickSize": 22,
      "labelFont": "Open Sans",
      "labelFontSize": 56,
      "labelColor": "#1a1a1a",
      "titleFont": "Open Sans",
      "titleFontSize": 60,
      "titleFontWeight": "bold",
      "titleColor": "#1a1a1a"
    }
  }
}
